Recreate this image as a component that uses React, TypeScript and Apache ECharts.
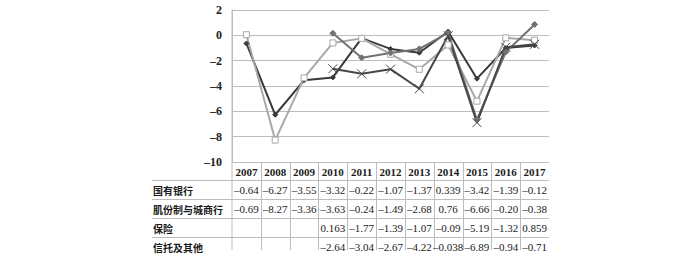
import React, { useEffect, useRef } from "react";
import * as echarts from "echarts";

const years = ["2007", "2008", "2009", "2010", "2011", "2012", "2013", "2014", "2015", "2016", "2017"];
const rowNames = ["国有银行", "肌份制与城商行", "保险", "信托及其他"];

// values as printed in the data table
const tableSOE = ["–0.64", "–6.27", "–3.55", "–3.32", "–0.22", "–1.07", "–1.37", "0.339", "–3.42", "–1.39", "–0.12"];
const tableJoint = ["–0.69", "–8.27", "–3.36", "–3.63", "–0.24", "–1.49", "–2.68", "0.76", "–6.66", "–0.20", "–0.38"];
const tableIns = ["", "", "", "0.163", "–1.77", "–1.39", "–1.07", "–0.09", "–5.19", "–1.32", "0.859"];
const tableTrust = ["", "", "", "–2.64", "–3.04", "–2.67", "–4.22", "–0.038", "–6.89", "–0.94", "–0.71"];

// values as plotted in the line chart
const lineSOE = [-0.64, -6.27, -3.55, -3.32, -0.22, -1.07, -1.37, 0.3, -3.42, -1.0, -0.8];
const lineJoint = [0.05, -8.27, -3.36, -0.6, -0.24, -1.49, -2.68, -0.76, -5.2, -0.2, -0.38];
const lineIns = [null, null, null, 0.163, -1.77, -1.39, -1.07, 0.2, -6.66, -1.32, 0.859];
const lineTrust = [null, null, null, -2.64, -3.04, -2.67, -4.22, -0.038, -6.89, -0.94, -0.71];

const yTicks = { min: -10, max: 2, interval: 2 };

const GRID = "#bdbdbd";
const SERIF = "'Liberation Serif', 'DejaVu Serif', serif";
const CJK = "'Noto Sans CJK SC', sans-serif";

export default function App() {
  const ref = useRef<HTMLDivElement>(null);
  useEffect(() => {
    document.body.style.margin = "0";
    const chart = echarts.init(ref.current!, null, { renderer: "svg" });
    const mkLine = (name: string, data: any[], color: string, symbol: string, size: number, hollow = false) => ({
      name,
      type: "line",
      data,
      symbol,
      symbolSize: size,
      showSymbol: true,
      lineStyle: { color, width: 2 },
      itemStyle: hollow
        ? { color: "#ffffff", borderColor: color, borderWidth: 1 }
        : symbol.startsWith("path://")
        ? { color: "none", borderColor: color, borderWidth: 1 }
        : { color, borderColor: color },
      z: 3,
    });
    chart.setOption({
      animation: false,
      grid: { left: 232, right: 151, top: 10, bottom: 96, containLabel: false },
      xAxis: {
        type: "category",
        data: years,
        boundaryGap: true,
        axisLine: { show: true, lineStyle: { color: GRID, width: 1 } },
        axisTick: { show: false },
        axisLabel: { show: false },
        splitLine: { show: false },
      },
      yAxis: {
        type: "value",
        min: yTicks.min,
        max: yTicks.max,
        interval: yTicks.interval,
        axisLine: { show: true, lineStyle: { color: GRID, width: 1 } },
        axisTick: { show: false },
        axisLabel: {
          margin: 10,
          fontFamily: SERIF,
          fontSize: 12,
          fontWeight: "bold",
          color: "#222",
          formatter: (v: number) => (v < 0 ? "–" + Math.abs(v) : String(v)),
        },
        splitLine: { show: true, lineStyle: { color: GRID, width: 1 } },
      },
      series: [
        mkLine("国有银行", lineSOE, "#3a3a3a", "diamond", 5),
        mkLine("肌份制与城商行", lineJoint, "#a8a8a8", "rect", 6, true),
        mkLine("保险", lineIns, "#727272", "diamond", 6),
        mkLine("信托及其他", lineTrust, "#474747", "path://M0,0L10,10M10,0L0,10", 9),
      ],
    });

    const x0 = chart.convertToPixel({ xAxisIndex: 0 }, 0) as number;
    const x1 = chart.convertToPixel({ xAxisIndex: 0 }, 1) as number;
    const band = x1 - x0;
    const left = x0 - band / 2;
    const right = left + band * years.length;
    const bottom = chart.convertToPixel({ yAxisIndex: 0 }, yTicks.min) as number;
    const top = chart.convertToPixel({ yAxisIndex: 0 }, yTicks.max) as number;
    const headerLeft = 152;
    const rowH = 19;
    const tableEnd = bottom + 88;
    const lineStyle = { stroke: GRID, lineWidth: 1 };
    const g: any[] = [];
    g.push({ type: "line", shape: { x1: left, y1: top, x2: left, y2: tableEnd }, style: lineStyle, silent: true });
    for (let i = 1; i < years.length; i++) {
      const x = Math.round(left + band * i) + 0.5;
      g.push({ type: "line", shape: { x1: x, y1: bottom, x2: x, y2: tableEnd }, style: lineStyle, silent: true });
    }
    for (let r = 0; r < 4; r++) {
      const y = Math.round(bottom + 18 + r * rowH) + 0.5;
      g.push({ type: "line", shape: { x1: headerLeft, y1: y, x2: right, y2: y }, style: lineStyle, silent: true });
    }
    const textStyle = (s: string, x: number, y: number, font: string, size: number, align = "center", weight = "normal") => ({
      type: "text",
      x,
      y,
      silent: true,
      style: {
        text: s,
        fill: "#1a1a1a",
        fontFamily: font,
        fontSize: size,
        fontWeight: weight,
        align,
        verticalAlign: "middle",
      },
    });
    years.forEach((yr, i) => {
      const cx = chart.convertToPixel({ xAxisIndex: 0 }, i) as number;
      g.push(textStyle(yr, cx, bottom + 9.5, SERIF, 11, "center", "bold"));
    });
    const tables = [tableSOE, tableJoint, tableIns, tableTrust];
    tables.forEach((row, r) => {
      const cy = bottom + 28 + r * rowH;
      g.push(textStyle(rowNames[r], headerLeft + 1, cy, CJK, 10, "left", "bold"));
      row.forEach((v, i) => {
        if (!v) return;
        const cx = chart.convertToPixel({ xAxisIndex: 0 }, i) as number;
        g.push(textStyle(v, cx, cy, SERIF, 11));
      });
    });
    chart.setOption({ graphic: g });
    return () => chart.dispose();
  }, []);
  return <div ref={ref} style={{ width: 700, height: 258 }} />;
}
